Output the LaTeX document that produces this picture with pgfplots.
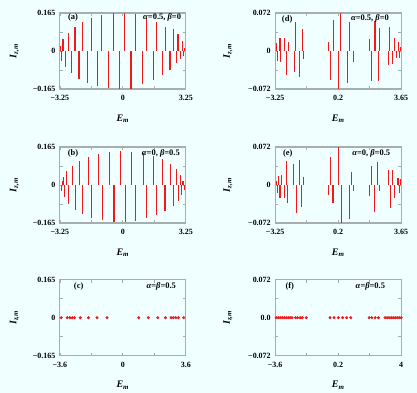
\documentclass[border=0pt]{standalone}
\usepackage{fontspec}
\setmainfont{Liberation Serif}
\usepackage{pgfplots}
\pgfplotsset{compat=1.18}
\definecolor{bgcol}{HTML}{F0FFFF}
\definecolor{framegray}{HTML}{A6AEAE}
\definecolor{barred}{HTML}{F01818}

\pgfplotsset{
  panel/.style={
    scale only axis, width=126bp, height=76bp, anchor=south west,
    clip=false, scaled ticks=false,
    axis line style={draw=framegray, line width=1.1bp},
    every tick/.style={draw=framegray, line width=0.6bp},
    major tick length=3bp,
    tick align=inside,
    ticklabel style={font=\fontsize{8}{9}\selectfont\bfseries, text=black},
    xticklabel style={yshift=-3bp},
    yticklabel style={xshift=-1bp},
    xlabel={\textbf{\textit{E}\textsubscript{\textit{m}}}},
    ylabel={\textbf{\textit{I}\textsubscript{\textit{z,m}}}},
    label style={font=\fontsize{10}{12}\selectfont},
    xlabel style={at={(axis description cs:0.5,-0.39)}, anchor=center},
  },
  leftcol/.style={ylabel style={at={(axis description cs:-0.36,0.5)}, anchor=center}},
  rightcol/.style={ylabel style={at={(axis description cs:-0.375,0.5)}, anchor=center}},
  bigy/.style={ymin=-0.165, ymax=0.165, ytick={-0.165,-0.0825,0,0.0825,0.165},
    yticklabels={−0.165,,0,,0.165}},
  smally/.style={ymin=-0.072, ymax=0.072, ytick={-0.072,-0.036,0,0.036,0.072},
    yticklabels={−0.072,,0,,0.072}},
  bars/.style={ycomb, draw=barred, line width=1.2bp, mark=none},
  dots/.style={only marks, mark=*, mark size=1.3bp, draw=barred, fill=barred},
}
\tikzset{tag/.style={font=\fontsize{8.5}{10}\selectfont\bfseries}}

\begin{document}
\begin{tikzpicture}
\fill[bgcol] (0,0) rectangle (417bp,393bp);

% (a)
\begin{axis}[panel, leftcol, bigy, at={(59.8bp,304bp)},
  xmin=-3.25, xmax=3.25, xtick={-3.25,-1.625,0,1.625,3.25}, xticklabels={−3.25,,0,,3.25}]
\addplot[bars] coordinates {
 (-3.20,0.023) (-3.08,0.052) (-2.82,0.080) (-2.47,0.103) (-2.07,0.126) (-1.60,0.142)
 (-1.08,0.157) (-0.48,0.165) (0.08,0.165) (0.65,0.160) (1.22,0.142) (1.74,0.126)
 (2.21,0.103) (2.61,0.094) (2.85,0.072) (3.08,0.042) (3.20,0.015)};
\addplot[bars] coordinates {
 (-3.15,-0.043) (-2.94,-0.069) (-2.64,-0.094) (-2.26,-0.120) (-1.81,-0.139) (-1.31,-0.151)
 (-0.74,-0.162) (-0.16,-0.165) (0.42,-0.163) (1.00,-0.143) (1.57,-0.128) (2.04,-0.105)
 (2.43,-0.082) (2.76,-0.051) (2.99,-0.035) (3.15,-0.020)};
\node[tag, anchor=center] at (rel axis cs:0.105,0.94) {(a)};
\node[tag, anchor=east] at (rel axis cs:0.99,0.94) {\textit{α}=0.5, \textit{β}=0};
\end{axis}

% (d)
\begin{axis}[panel, rightcol, smally, at={(275.2bp,304bp)},
  xmin=-3.25, xmax=3.65, xtick={-3.25,-1.525,0.2,1.925,3.65}, xticklabels={−3.25,,0.2,,3.65}]
\addplot[bars] coordinates {
 (-3.195,0.0145) (-2.99,0.0253) (-2.74,0.0240) (-2.54,0.0177) (-2.12,0.0556) (-1.77,0.0417)
 (-0.31,0.0177) (-0.04,0.0588) (0.345,0.072) (0.84,0.0544)
 (1.93,0.0221) (2.21,0.0569) (2.48,0.043) (3.03,0.0461) (3.30,0.0253) (3.50,0.0177) (3.63,0.0082)};
\addplot[bars] coordinates {
 (-3.12,-0.019) (-2.94,-0.0202) (-2.65,-0.0455) (-2.21,-0.0392) (-1.94,-0.0486) (-1.68,-0.0158)
 (-0.20,-0.0551) (0.235,-0.072) (0.73,-0.0613) (1.02,-0.0202)
 (2.04,-0.0563) (2.39,-0.0569) (2.94,-0.0265) (3.17,-0.0240) (3.39,-0.0139) (3.57,-0.0126)};
\node[tag, anchor=center] at (rel axis cs:0.095,0.92) {(d)};
\node[tag, anchor=east] at (rel axis cs:0.93,0.93) {\textit{α}=0.5, \textit{β}=0};
\end{axis}

% (b)
\begin{axis}[panel, leftcol, bigy, at={(59.8bp,170bp)},
  xmin=-3.25, xmax=3.25, xtick={-3.25,-1.625,0,1.625,3.25}, xticklabels={−3.25,,0,,3.25}]
\addplot[bars] coordinates {
 (-3.11,0.017) (-3.04,0.036) (-2.89,0.060) (-2.60,0.082) (-2.22,0.104) (-1.77,0.121)
 (-1.26,0.135) (-0.67,0.145) (-0.10,0.149) (0.46,0.145) (1.05,0.139) (1.57,0.128)
 (2.05,0.114) (2.48,0.092) (2.77,0.071) (2.99,0.043) (3.11,0.017)};
\addplot[bars] coordinates {
 (-3.16,-0.026) (-2.99,-0.054) (-2.80,-0.082) (-2.46,-0.107) (-2.08,-0.128) (-1.60,-0.142)
 (-1.05,-0.154) (-0.45,-0.161) (0.12,-0.161) (0.67,-0.156) (1.22,-0.145) (1.74,-0.131)
 (2.18,-0.114) (2.60,-0.092) (2.87,-0.071) (3.04,-0.043) (3.18,-0.021)};
\node[tag, anchor=center] at (rel axis cs:0.105,0.91) {(b)};
\node[tag, anchor=east] at (rel axis cs:0.98,0.91) {\textit{α}=0, \textit{β}=0.5};
\end{axis}

% (e)
\begin{axis}[panel, rightcol, smally, at={(275.2bp,170bp)},
  xmin=-3.25, xmax=3.65, xtick={-3.25,-1.525,0.2,1.925,3.65}, xticklabels={−3.25,,0.2,,3.65}]
\addplot[bars] coordinates {
 (-3.195,0.0073) (-3.07,0.0171) (-2.90,0.0195) (-2.65,0.0458) (-2.23,0.0397) (-1.92,0.0476)
 (-1.72,0.0153) (-0.20,0.0537) (0.235,0.072) (0.95,0.0244)
 (2.02,0.0366) (2.37,0.0439) (2.97,0.0275) (3.17,0.0275) (3.47,0.0134) (3.61,0.0122)};
\addplot[bars] coordinates {
 (-3.14,-0.0153) (-2.99,-0.0244) (-2.74,-0.0244) (-2.56,-0.0336) (-2.10,-0.0537) (-1.81,-0.0415)
 (-0.31,-0.0183) (-0.09,-0.0336) (0.36,-0.072) (0.84,-0.0641) (1.04,-0.0122)
 (1.93,-0.0214) (2.19,-0.0519) (2.46,-0.0122) (3.06,-0.0427) (3.28,-0.0244) (3.54,-0.0153)};
\node[tag, anchor=center] at (rel axis cs:0.1,0.91) {(e)};
\node[tag, anchor=east] at (rel axis cs:0.94,0.91) {\textit{α}=0, \textit{β}=0.5};
\end{axis}

% (c)
\begin{axis}[panel, leftcol, bigy, at={(59.8bp,37.3bp)},
  xmin=-3.6, xmax=3.6, xtick={-3.6,-1.8,0,1.8,3.6}, xticklabels={−3.6,,0,,3.6}]
\addplot[dots] coordinates {
 (-3.52,0) (-3.18,0) (-3.03,0) (-2.89,0) (-2.76,0) (-2.43,0) (-1.96,0) (-1.47,0) (-0.90,0)
 (0.91,0) (1.46,0) (2.00,0) (2.44,0) (2.76,0) (2.89,0) (3.03,0) (3.18,0) (3.48,0)};
\node[tag, anchor=center] at (rel axis cs:0.15,0.91) {(c)};
\node[tag, anchor=east] at (rel axis cs:0.95,0.91) {\textit{α}=\textit{β}=0.5};
\end{axis}

% (f)
\begin{axis}[panel, rightcol, smally, at={(275.2bp,37.3bp)},
  yticklabels={−0.072,,0.0,,0.072},
  xmin=-3.6, xmax=4, xtick={-3.6,-1.7,0.2,2.1,4}, xticklabels={−3.6,,0.2,,4}]
\addplot[dots] coordinates {
 (-3.54,0) (-3.42,0) (-3.30,0) (-3.18,0) (-3.06,0) (-2.94,0) (-2.82,0) (-2.70,0) (-2.58,0)
 (-2.37,0) (-2.25,0) (-2.09,0) (-1.97,0) (-1.73,0)
 (-0.29,0) (-0.05,0) (0.21,0) (0.47,0) (0.71,0) (0.96,0)
 (2.07,0) (2.23,0) (2.43,0) (2.63,0)
 (3.03,0) (3.15,0) (3.27,0) (3.40,0) (3.52,0) (3.64,0) (3.76,0) (3.88,0) (4.00,0)};
\node[tag, anchor=center] at (rel axis cs:0.116,0.91) {(f)};
\node[tag, anchor=east] at (rel axis cs:0.90,0.91) {\textit{α}=\textit{β}=0.5};
\end{axis}

\pgfresetboundingbox
\path[use as bounding box] (0,0) rectangle (417bp,393bp);
\end{tikzpicture}
\end{document}
